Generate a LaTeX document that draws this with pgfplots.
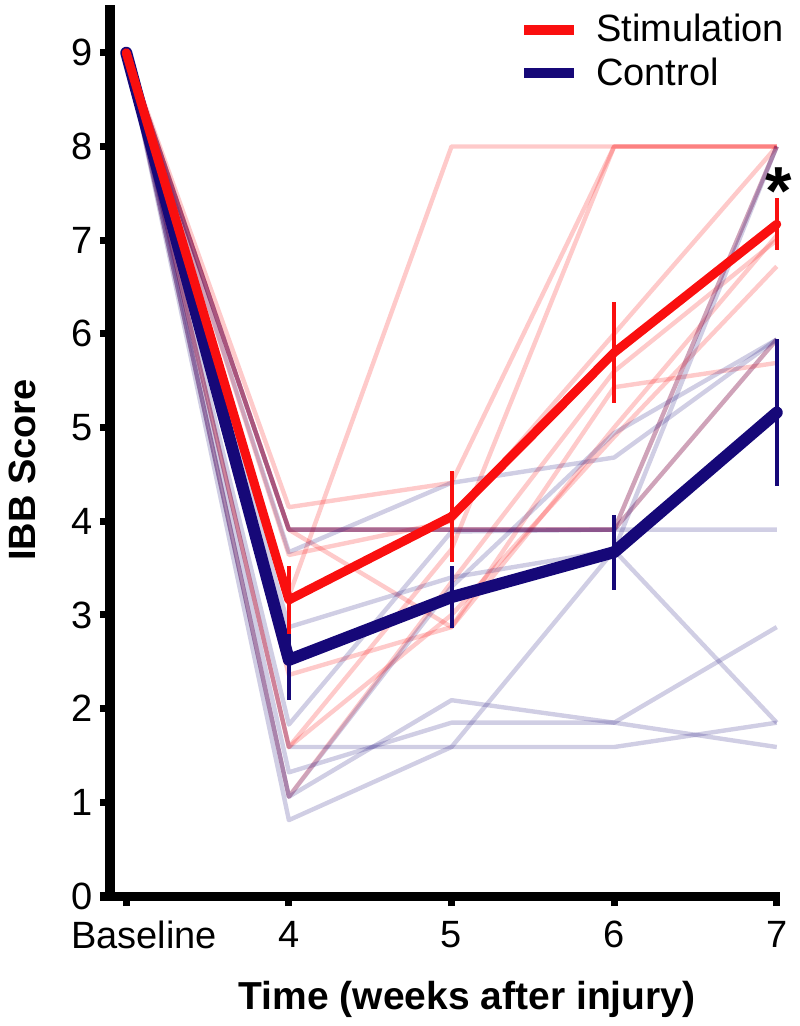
\documentclass[border=0pt]{standalone}
\usepackage{fontspec}
\setmainfont{Liberation Sans}
\usepackage{pgfplots}
\pgfplotsset{compat=1.18}

\definecolor{stimred}{RGB}{250,15,15}
\definecolor{ctrlblue}{RGB}{22,8,120}

\pgfplotsset{
  indiv red/.style={draw=stimred, draw opacity=0.22, line width=2.2bp, line join=round, forget plot},
  indiv blue/.style={draw=ctrlblue, draw opacity=0.2, line width=2.2bp, line join=round, forget plot},
}

\begin{document}
\begin{tikzpicture}
\begin{axis}[
  scale only axis,
  width=335bp, height=445.5bp,
  xmin=2.9, xmax=7.02, ymin=0, ymax=9.51,
  axis lines=left,
  axis line style={-, line width=4.5bp},
  x axis line style={shorten <=-5bp},
  clip=false,
  xtick={3,4,5,6,7},
  xticklabels={\hspace*{18bp}Baseline,4,5,6,7},
  ytick={0,1,2,3,4,5,6,7,8,9},
  tick align=outside,
  major tick length=5bp,
  tick style={line width=3.5bp, black},
  /pgf/number format/assume math mode=true,
  tick label style={font=\fontsize{19bp}{22bp}\selectfont},
  xticklabel style={yshift=-4bp},
  xlabel={Time (weeks after injury)},
  ylabel={IBB Score},
  xlabel style={font=\fontsize{19.5bp}{22bp}\selectfont\bfseries, at={(axis description cs:0.533,-0.1165)}, anchor=center},
  ylabel style={font=\fontsize{19bp}{22bp}\selectfont\bfseries, at={(axis description cs:-0.13,0.478)}, anchor=center},
  legend cell align=left,
  legend image code/.code={\draw[#1, line width=5bp] (0bp,0bp) -- (25bp,0bp);},
  legend style={draw=none, fill=none, at={(axis description cs:0.61,0.9945)}, anchor=north west,
    font=\fontsize{19bp}{22bp}\selectfont, row sep=2.5bp, column sep=6.5bp, inner sep=0pt},
]
% stimulation animals
\addplot[indiv red] coordinates {(3,9) (4,4.15) (5,4.41) (6,8) (7,8)};
\addplot[indiv red] coordinates {(3,9) (4,3.91) (5,3.91) (6,3.91) (7,5.94)};
\addplot[indiv red] coordinates {(3,9) (4,3.91) (5,3.91) (6,3.91) (7,8)};
\addplot[indiv red] coordinates {(3,9) (4,3.20) (5,8) (6,8) (7,8)};
\addplot[indiv red] coordinates {(3,9) (4,3.91) (5,2.87) (6,5.43) (7,5.69)};
\addplot[indiv red] coordinates {(3,9) (4,2.36) (5,2.87) (6,5.00) (7,7.05)};
\addplot[indiv red] coordinates {(3,9) (4,1.59) (5,3.70) (6,8) (7,8)};
\addplot[indiv red] coordinates {(3,9) (4,1.06) (5,3.35) (6,5.60) (7,7.00)};
\addplot[indiv red] coordinates {(3,9) (4,3.64) (5,4.00) (6,6.00) (7,8)};
\addplot[indiv red] coordinates {(3,9) (4,1.59) (5,3.00) (6,4.90) (7,6.72)};
% control animals
\addplot[indiv blue] coordinates {(3,9) (4,3.91) (5,3.91) (6,3.91) (7,3.91)};
\addplot[indiv blue] coordinates {(3,9) (4,3.91) (5,3.91) (6,3.91) (7,5.94)};
\addplot[indiv blue] coordinates {(3,9) (4,3.67) (5,4.41) (6,4.68) (7,5.94)};
\addplot[indiv blue] coordinates {(3,9) (4,2.87) (5,3.40) (6,3.69) (7,8)};
\addplot[indiv blue] coordinates {(3,9) (4,1.83) (5,3.89) (6,3.91) (7,8)};
\addplot[indiv blue] coordinates {(3,9) (4,1.32) (5,1.85) (6,1.85) (7,2.87)};
\addplot[indiv blue] coordinates {(3,9) (4,1.06) (5,2.09) (6,1.85) (7,1.59)};
\addplot[indiv blue] coordinates {(3,9) (4,0.81) (5,1.59) (6,3.69) (7,1.85)};
\addplot[indiv blue] coordinates {(3,9) (4,1.59) (5,1.59) (6,1.59) (7,1.85)};
\addplot[indiv blue] coordinates {(3,9) (4,1.06) (5,3.30) (6,4.94) (7,5.94)};
% group means with SEM
\addplot[ctrlblue, line width=6bp, line cap=round, line join=round, forget plot,
  error bars/.cd, y dir=both, y explicit, error mark=none,
  error bar style={line width=2bp, line cap=butt}]
  coordinates {(3,9) +- (0,0) (4,2.52) +- (0,0.43) (5,3.19) +- (0,0.33) (6,3.67) +- (0,0.40) (7,5.16) +- (0,0.78)};
\addplot[stimred, line width=4.5bp, line cap=round, line join=round, forget plot,
  error bars/.cd, y dir=both, y explicit, error mark=none,
  error bar style={line width=2bp, line cap=butt}]
  coordinates {(3,9) +- (0,0) (4,3.16) +- (0,0.36) (5,4.05) +- (0,0.49) (6,5.80) +- (0,0.54) (7,7.17) +- (0,0.28)};
\addlegendimage{stimred}
\addlegendentry{Stimulation}
\addlegendimage{ctrlblue}
\addlegendentry{Control}
\node[font=\fontsize{34bp}{34bp}\selectfont\bfseries, anchor=base, inner sep=0pt] at (axis cs:7.01,7.27) {*};
\end{axis}
\pgfresetboundingbox
\path[use as bounding box] (-55bp,-65bp) rectangle (345bp,448bp);
\end{tikzpicture}
\end{document}
